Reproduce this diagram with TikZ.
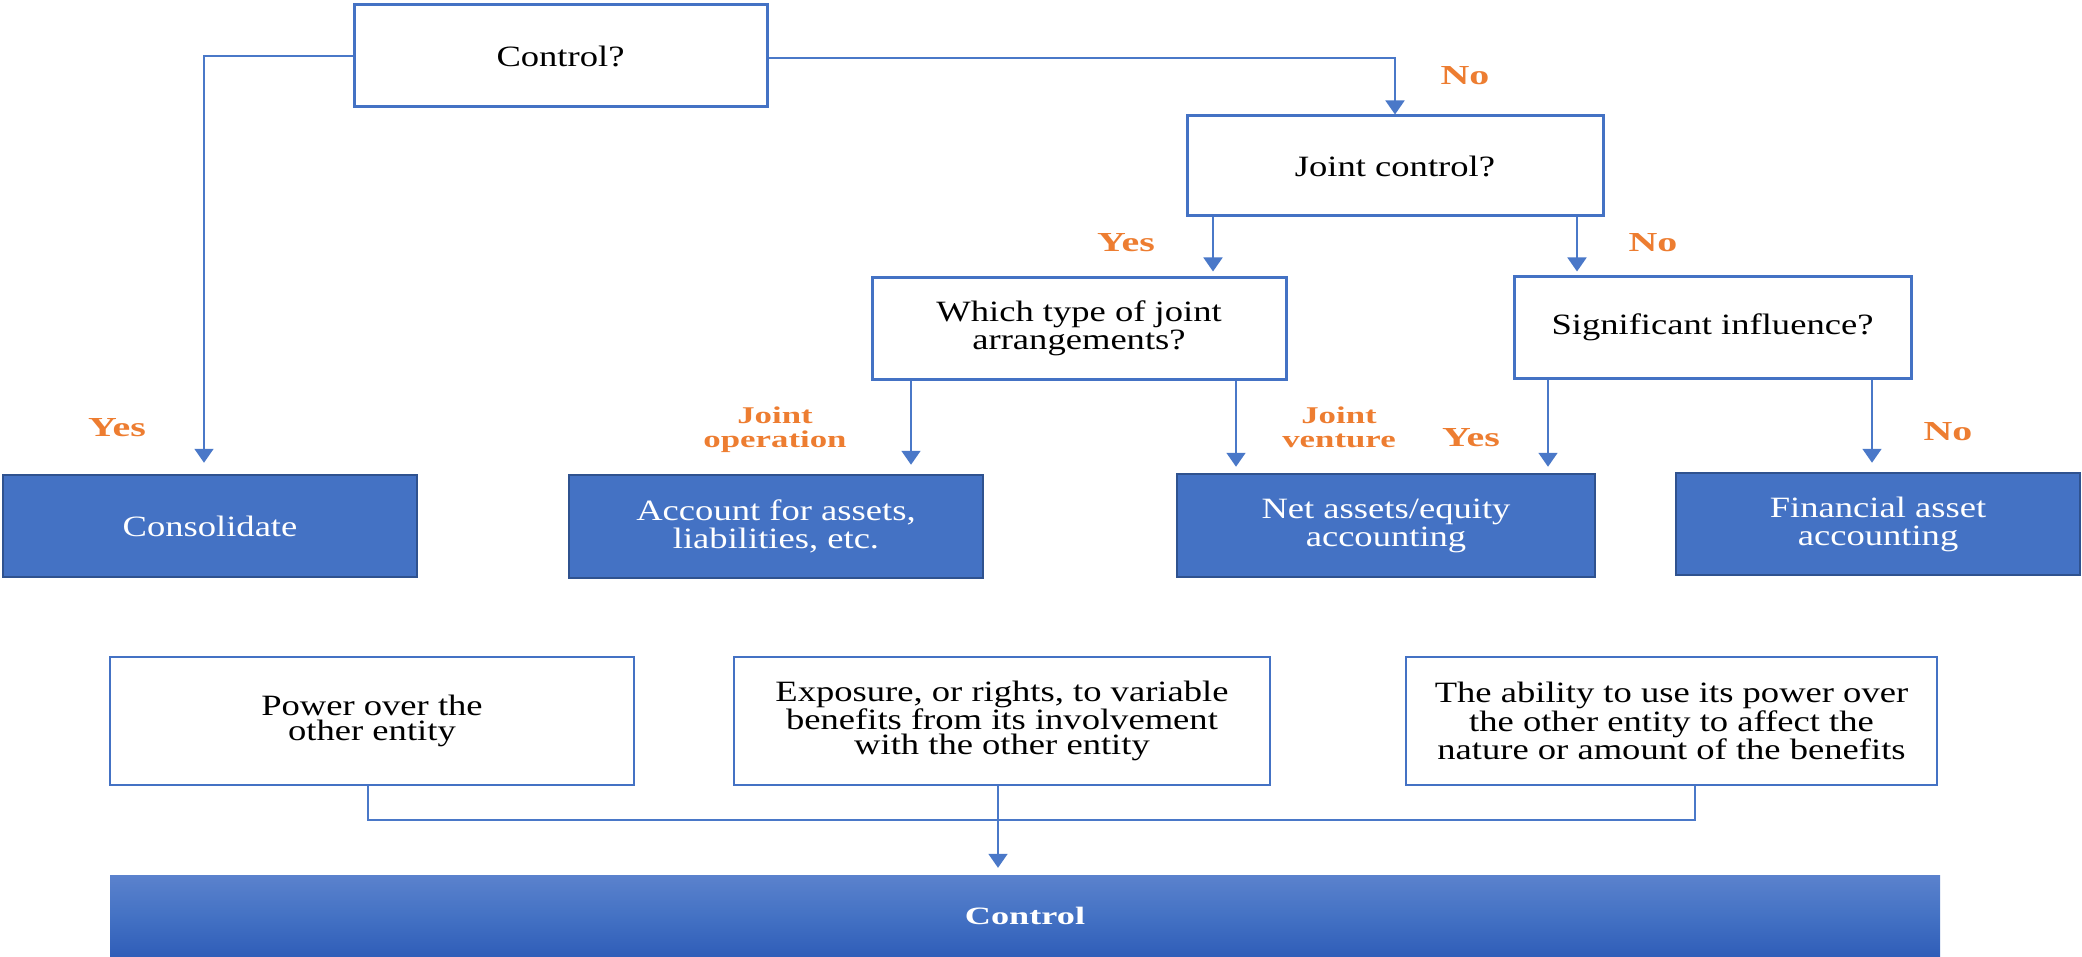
\documentclass[tikz,border=0pt]{standalone}
\usepackage{fontspec}
\setmainfont{Liberation Serif}[FakeStretch=1.24]
\newfontfamily\lblfont{Liberation Serif}[FakeStretch=1.45]
\usetikzlibrary{arrows.meta,calc}
\definecolor{boxblue}{HTML}{4472C4}
\definecolor{darkblue}{HTML}{2F528F}
\definecolor{lineblue}{HTML}{4A78C8}
\definecolor{orangelbl}{HTML}{ED7D31}
\definecolor{bartop}{HTML}{5B82CD}
\definecolor{barbot}{HTML}{2F5DB8}
\begin{document}
\begin{tikzpicture}[x=1pt,y=-1pt,
 qbox/.style={draw=boxblue,line width=3pt,fill=white,inner sep=0pt,align=center,font=\fontsize{29.5}{28}\selectfont},
 rbox/.style={draw=darkblue,line width=2.5pt,fill=boxblue,text=white,inner sep=0pt,align=center,font=\fontsize{29.5}{28}\selectfont},
 cbox/.style={draw=boxblue,line width=2.5pt,fill=white,inner sep=0pt,align=center,font=\fontsize{29.5}{25.5}\selectfont,minimum height=128pt},
 lbl/.style={text=orangelbl,font=\lblfont\bfseries\fontsize{27.5}{27}\selectfont,align=center},
 slbl/.style={text=orangelbl,font=\lblfont\bfseries\fontsize{24}{24}\selectfont,align=center},
 conn/.style={draw=lineblue,line width=1.8pt},
 arr/.style={conn,-{Triangle[width=19pt,length=14pt]}},
]
\useasboundingbox (0,0) rectangle (2082,957);

\node[qbox,minimum width=413pt,minimum height=102pt] (ctrlq) at (560.5,56) {Control?};
\node[qbox,minimum width=416pt,minimum height=100pt] (joint) at (1395,166) {Joint control?};
\node[qbox,minimum width=414pt,minimum height=101pt] (which) at (1079,328.5) {Which type of joint\\arrangements?};
\node[qbox,minimum width=397pt,minimum height=101pt] (sig) at (1712.5,327.5) {Significant influence?};

\node[rbox,minimum width=414pt,minimum height=102pt] (consol) at (210,526) {Consolidate};
\node[rbox,minimum width=414pt,minimum height=103pt] (acct) at (776,526.5) {Account for assets,\\liabilities, etc.};
\node[rbox,minimum width=418pt,minimum height=103pt] (net) at (1386,525.5) {Net assets/equity\\accounting};
\node[rbox,minimum width=404pt,minimum height=102pt] (fin) at (1878,524) {Financial asset\\accounting};

\node[cbox,minimum width=524pt] (power) at (372,721) {Power over the\\other entity};
\node[cbox,minimum width=536pt] (expo) at (1002,721) {Exposure, or rights, to variable\\benefits from its involvement\\with the other entity};
\node[cbox,minimum width=531pt] (abil) at (1671.5,721) {The ability to use its power over\\the other entity to affect the\\nature or amount of the benefits};

\node[minimum width=1830pt,minimum height=82pt,inner sep=0pt,top color=bartop,bottom color=barbot,middle color=boxblue,text=white,font=\lblfont\bfseries\fontsize{25}{25}\selectfont] (bar) at (1025,916) {Control};

% connectors
\draw[arr] (ctrlq.west) -| ([xshift=-6pt,yshift=11pt]consol.north);
\draw[arr] ([yshift=-2pt]ctrlq.east) -| (joint.north);
\draw[arr] ([xshift=-182pt]joint.south) -- ([xshift=134pt,yshift=5pt]which.north);
\draw[arr] ([xshift=182pt]joint.south) -- ([xshift=-135.5pt,yshift=4pt]sig.north);
\draw[arr] ([xshift=-168pt]which.south) -- ([xshift=135pt,yshift=9pt]acct.north);
\draw[arr] ([xshift=157pt]which.south) -- ([xshift=-150pt,yshift=6pt]net.north);
\draw[arr] ([xshift=-164.5pt]sig.south) -- ([xshift=162pt,yshift=6pt]net.north);
\draw[arr] ([xshift=159.5pt]sig.south) -- ([xshift=-6pt,yshift=9pt]fin.north);

\coordinate (mid) at (1000,820);
\draw[conn] ([xshift=-4pt]power.south) |- (mid) -| ([xshift=23.5pt]abil.south);
\draw[arr] ([xshift=-4pt]expo.south) -- ([xshift=-27pt,yshift=7pt]bar.north);

% labels
\node[lbl] (l1) at (117,428) {Yes};
\node[slbl] (l2) at (775,430) {Joint\\operation};
\node[lbl] (l3) at (1465,76) {No};
\node[lbl] (l4) at (1126,243) {Yes};
\node[lbl] (l5) at (1653,243) {No};
\node[slbl] (l6) at (1339,427) {Joint\\venture};
\node[lbl] (l7) at (1471,438) {Yes};
\node[lbl] (l8) at (1948,432) {No};
\end{tikzpicture}
\end{document}
